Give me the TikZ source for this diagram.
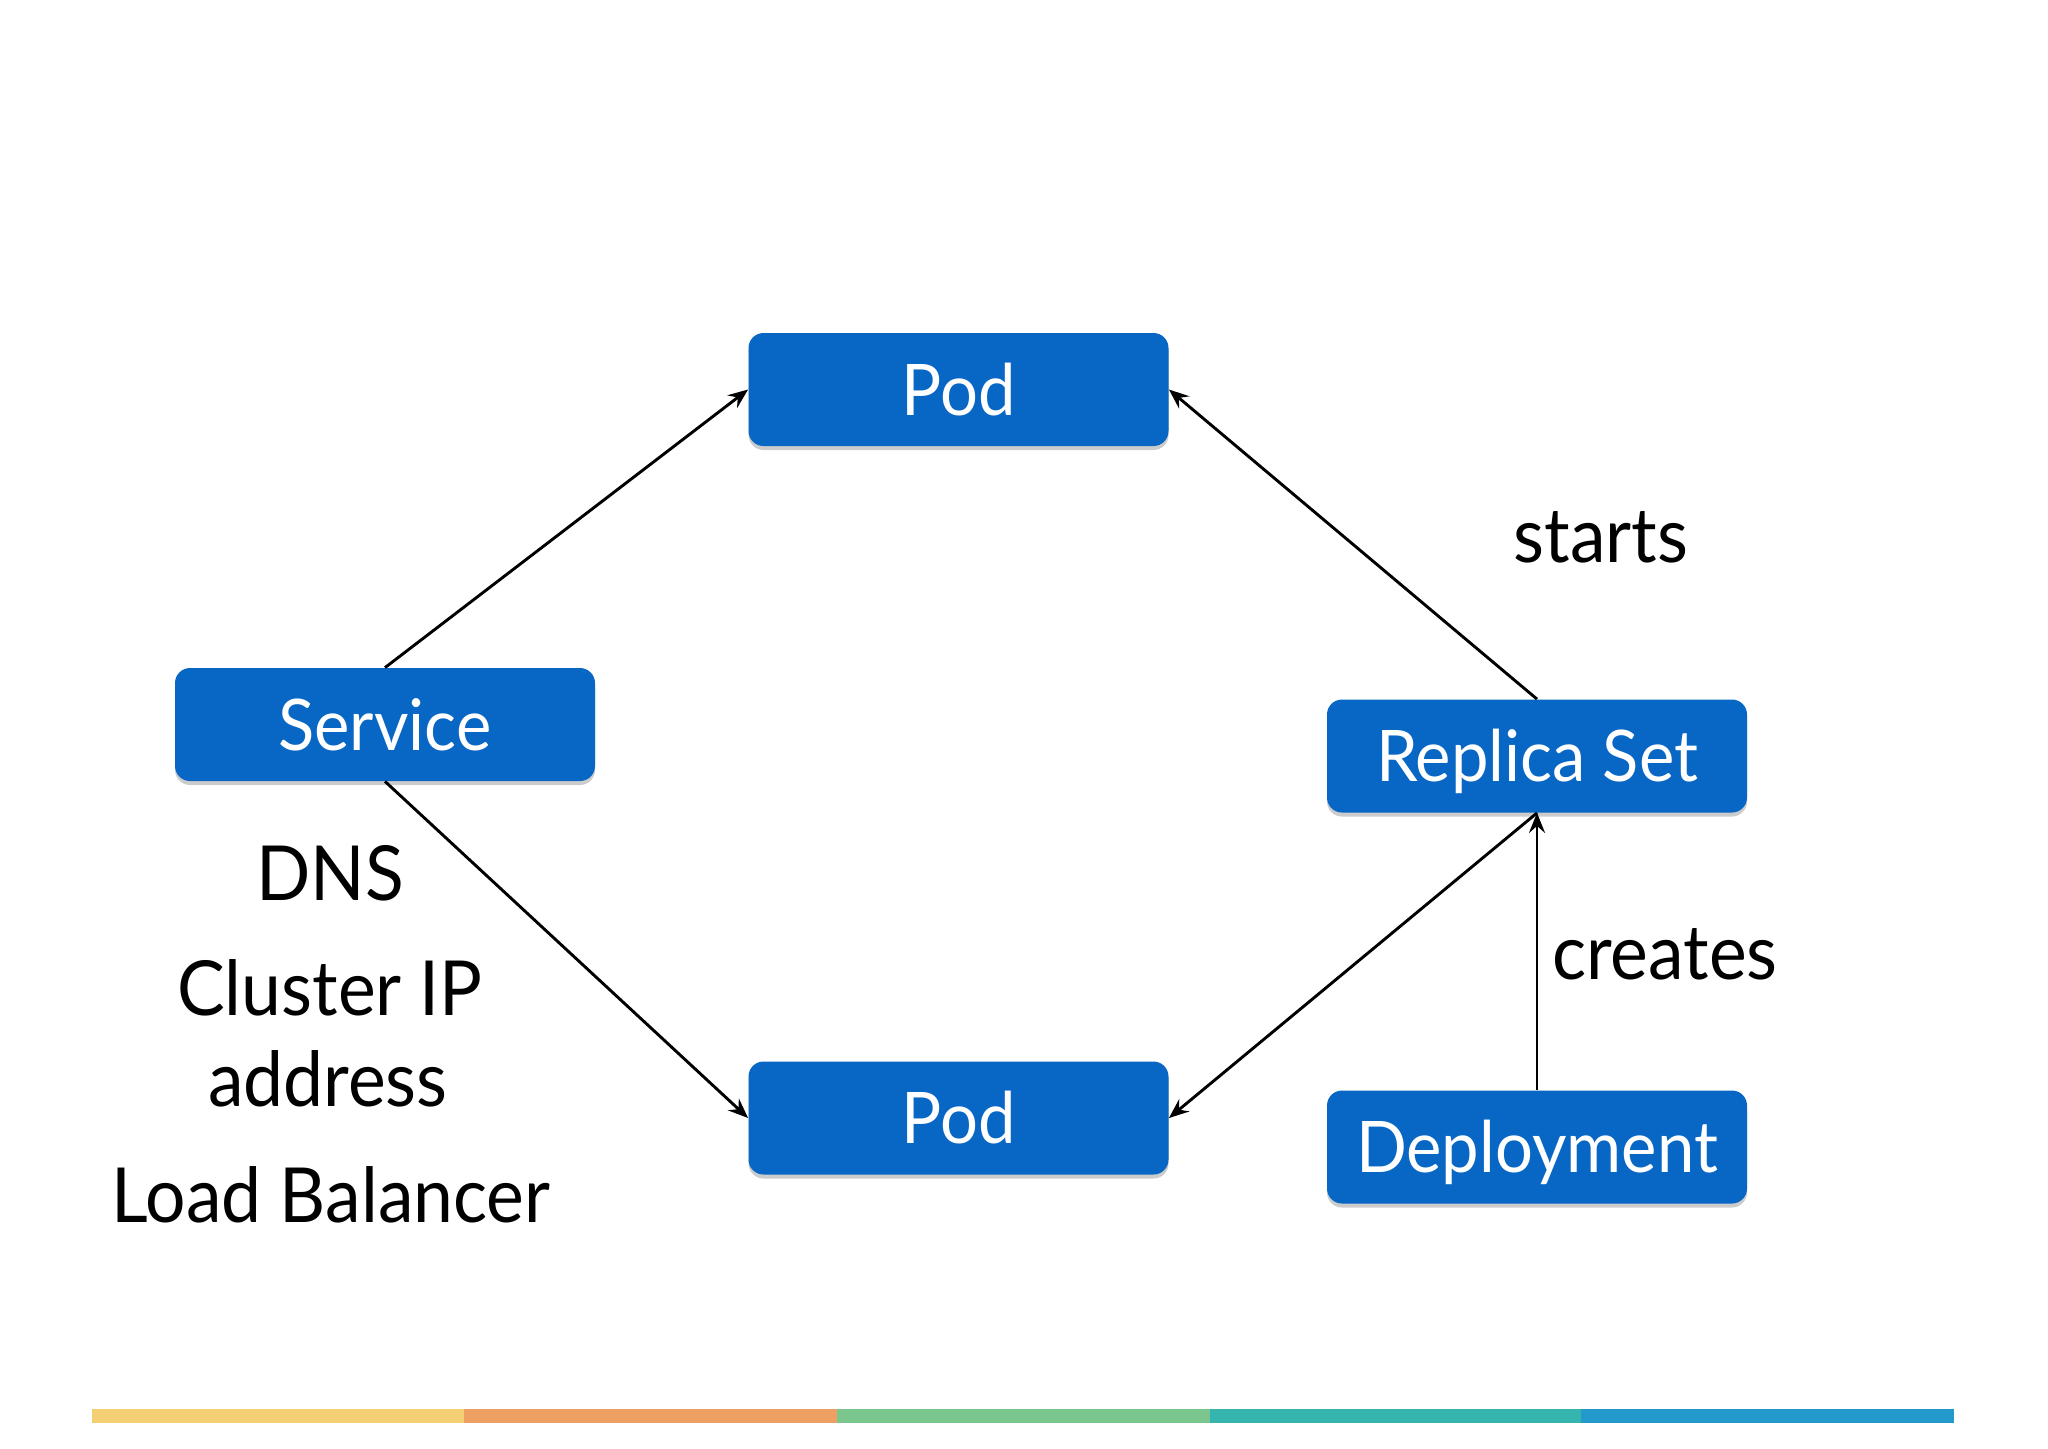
\documentclass[tikz,border=0pt]{standalone}
\usepackage{fontspec}
\setmainfont{Lato}[FakeStretch=0.94]
\usetikzlibrary{arrows.meta,shadows}
\definecolor{boxblue}{HTML}{0866C4}
\definecolor{barA}{HTML}{F5CF74}
\definecolor{barB}{HTML}{EEA062}
\definecolor{barC}{HTML}{7BC68F}
\definecolor{barD}{HTML}{36B5AF}
\definecolor{barE}{HTML}{2399CC}
\begin{document}
\begin{tikzpicture}[x=0.5pt,y=-0.5pt,
  box/.style={draw=none,fill=boxblue,rounded corners=7.5pt,minimum width=210pt,minimum height=56.5pt,
    inner sep=0pt,text=white,font=\fontsize{35.6}{40}\selectfont,text height=25.5pt,text depth=0pt,
    drop shadow={shadow xshift=0pt,shadow yshift=-2pt,fill=black,opacity=0.2}},
  lbl/.style={font=\fontsize{38}{44}\selectfont,inner sep=0pt,anchor=base},
  conn/.style={line width=1.45pt,-{Stealth[length=10pt,width=8pt,inset=3.5pt]}}]
\useasboundingbox (0,0) rectangle (2048,1448);
\fill[white] (0,0) rectangle (2048,1448);

\node[box] (pod1) at (958.5,389.5) {Pod};
\node[box] (svc) at (385,724.5) {Service};
\node[box] (rs) at (1537,756) {Replica Set};
\node[box] (pod2) at (958.5,1118) {Pod};
\node[box] (dep) at (1537,1147) {Deployment};

\node[lbl] (starts) at (1601,562) {starts};
\node[lbl] (creates) at (1665,979) {creates};
\node[lbl] (dns) at (330,900) {DNS};
\node[lbl] (cip) at (330,1015) {Cluster IP};
\node[lbl] (addr) at (328,1106) {address};
\node[lbl] (lb) at (331,1222) {Load Balancer};

\draw[conn] (svc.north) -- (pod1.west);
\draw[conn] (rs.north) -- (pod1.east);
\draw[conn] (svc.south) -- (pod2.west);
\draw[conn] (rs.south) -- (pod2.east);
\draw[conn] (dep.north) -- (rs.south);

\fill[barA] (92,1409) rectangle (464,1423);
\fill[barB] (464,1409) rectangle (837,1423);
\fill[barC] (837,1409) rectangle (1210,1423);
\fill[barD] (1210,1409) rectangle (1581,1423);
\fill[barE] (1581,1409) rectangle (1954,1423);
\end{tikzpicture}
\end{document}
